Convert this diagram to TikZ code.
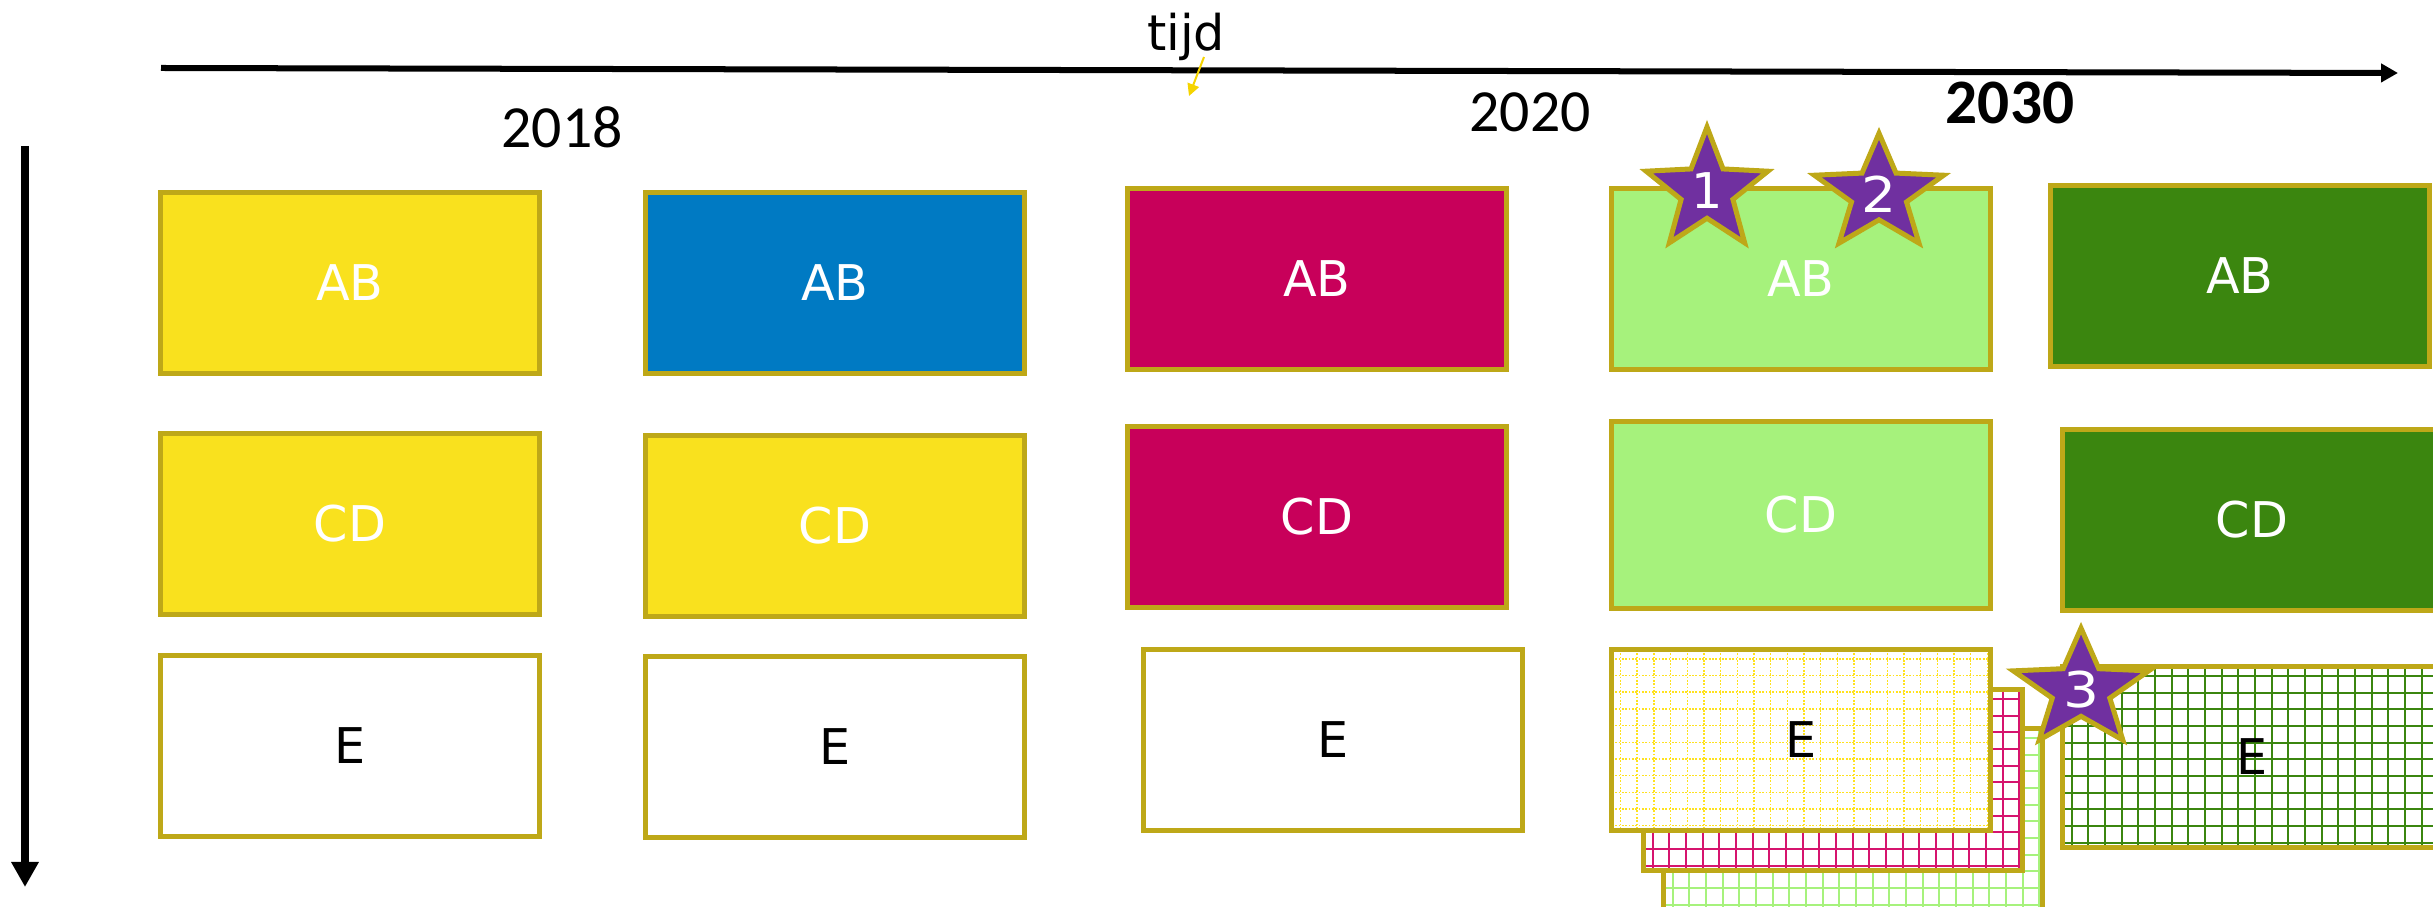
\documentclass[tikz,border=0pt]{standalone}
\usepackage{fontspec}
\setmainfont{DejaVu Sans}
\newfontfamily\jaarfont{Carlito}
\usetikzlibrary{arrows.meta,shapes.geometric}

\definecolor{rand}{RGB}{190,168,24}
\definecolor{geel}{RGB}{249,225,30}
\definecolor{blauw}{RGB}{0,122,195}
\definecolor{roze}{RGB}{200,0,90}
\definecolor{lichtgroen}{RGB}{166,242,124}
\definecolor{donkergroen}{RGB}{59,134,15}
\definecolor{paars}{RGB}{112,48,160}
\definecolor{rasterroze}{RGB}{214,20,110}
\definecolor{rastergeel}{RGB}{255,226,30}
\definecolor{geelpijl}{RGB}{245,212,0}

\tikzset{
	blok/.style={rectangle,draw=rand,line width=0.05cm,minimum width=3.78cm,minimum height=1.80cm,
		inner sep=0pt,outer sep=0pt,font=\fontsize{14}{16}\selectfont},
	vol/.style={blok,fill=#1,text=white},
	leeg/.style={blok,fill=white,text=black},
	rasterE/.style={leeg,path picture={
		\foreach \k in {0,...,23}
			\draw[#1] ([shift={(8.7+16.67*\k,0)}]path picture bounding box.north west) -- ++(0,200);
		\foreach \k in {0,...,11}
			\draw[#1] ([shift={(0,9+16.67*\k)}]path picture bounding box.north west) -- ++(400,0);
	}},
	rastergeel/.style={draw=rastergeel,line width=0.45pt,dash pattern=on 0.5pt off 0.45pt},
	rasterroze/.style={draw=rasterroze,line width=0.6pt},
	rasterlicht/.style={draw=lichtgroen,line width=0.6pt},
	rasterdonker/.style={draw=donkergroen,line width=0.6pt},
	ster/.style={star,star points=5,star point ratio=2.35,draw=rand,fill=paars,line width=0.05cm,
		minimum size=#1,inner sep=0pt,text=white,font=\fontsize{14}{16}\selectfont},
	jaar/.style={anchor=base,font=\jaarfont\fontsize{17}{20}\selectfont},
}

\begin{document}
\begin{tikzpicture}[x=0.01cm,y=-0.01cm,>=latex]
\useasboundingbox (0,0) rectangle (2433,907);
% assen
\coordinate (t0) at (161,68);
\coordinate (t1) at (2398,73);
\coordinate (v0) at (25,146);
\coordinate (v1) at (25,887);
\draw[line width=0.06cm,-{Triangle[length=0.17cm,width=0.18cm]}] (t0) -- (t1);
\draw[line width=0.07cm,-{Triangle[length=0.25cm,width=0.26cm]}] (v0) -- (v1);
\node[anchor=base,font=\fontsize{14}{16}\selectfont] (tijd) at (1186,51) {tijd};
\coordinate (p0) at (1204,57);
\coordinate (p1) at (1189,96);
\draw[color=geelpijl,line width=0.02cm,-{Triangle[length=0.12cm,width=0.12cm]}] (p0) -- (p1);
\node[jaar] (j2018) at (562,148) {2018};
\node[jaar] (j2020) at (1530,132) {2020};
\node[jaar,font=\jaarfont\bfseries\fontsize{18}{21}\selectfont] (j2030) at (2010,124) {2030};
% 2018
\node[vol=geel] (ab1) at (350,283) {AB};
\node[vol=geel] (cd1) at (350,524) {CD};
\node[leeg] (e1) at (350,746) {E};
\node[vol=blauw] (ab2) at (835,283) {AB};
\node[vol=geel] (cd2) at (835,526) {CD};
\node[leeg] (e2) at (835,747) {E};
% 2020
\node[vol=roze] (ab3) at (1317,279) {AB};
\node[vol=roze] (cd3) at (1317,517) {CD};
\node[leeg] (e3) at (1333,740) {E};
\node[vol=lichtgroen] (ab4) at (1801,279) {AB};
\node[vol=lichtgroen,minimum height=1.86cm] (cd4) at (1801,515) {CD};
\node[rasterE=rasterlicht] (e4c) at (1853,819) {};
\node[rasterE=rasterroze] (e4b) at (1833,780) {};
\node[rasterE=rastergeel] (e4) at (1801,740) {E};
\node[ster=1.28cm] (s1) at (1707,191) {1};
\begin{scope}[shift={(1879,194)},xscale=1.12]
\node[ster=1.17cm,transform shape] (s2) at (0,0) {2};
\end{scope}
% 2030
\node[vol=donkergroen] (ab5) at (2240,276) {AB};
\node[vol=donkergroen] (cd5) at (2252,520) {CD};
\node[rasterE=rasterdonker] (e5) at (2252,757) {E};
\begin{scope}[shift={(2081,690)},xscale=1.15]
\node[ster=1.15cm,transform shape] (s3) at (0,0) {3};
\end{scope}
\end{tikzpicture}
\end{document}
